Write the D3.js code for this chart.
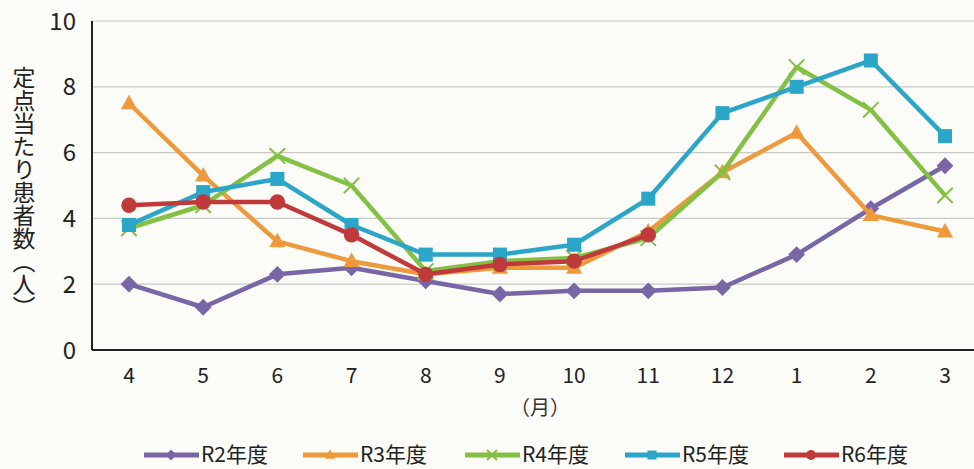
<!DOCTYPE html>
<html>
<head>
<meta charset="utf-8">
<script src="https://cdn.jsdelivr.net/npm/d3@7"></script>
<style>
  body { margin: 0; background: #fbfbf7; }
  svg { display: block; font-family: "Noto Sans CJK JP", "Noto Sans", sans-serif; }
</style>
</head>
<body>
<svg id="chart" width="974" height="469"></svg>
<script>
// months (April start fiscal year)
const months = ['4', '5', '6', '7', '8', '9', '10', '11', '12', '1', '2', '3'];
const yTicks = [0, 2, 4, 6, 8, 10];

const r2 = [2.0, 1.3, 2.3, 2.5, 2.1, 1.7, 1.8, 1.8, 1.9, 2.9, 4.3, 5.6];
const r3 = [7.5, 5.3, 3.3, 2.7, 2.3, 2.5, 2.5, 3.6, 5.4, 6.6, 4.1, 3.6];
const r4 = [3.7, 4.4, 5.9, 5.0, 2.4, 2.7, 2.8, 3.4, 5.4, 8.6, 7.3, 4.7];
const r5 = [3.8, 4.8, 5.2, 3.8, 2.9, 2.9, 3.2, 4.6, 7.2, 8.0, 8.8, 6.5];
const r6 = [4.4, 4.5, 4.5, 3.5, 2.3, 2.6, 2.7, 3.5];

const seriesNames = ['R2年度', 'R3年度', 'R4年度', 'R5年度', 'R6年度'];
const seriesValues = [r2, r3, r4, r5, r6];
const colors = ['#7866a6', '#ee9a3c', '#84c043', '#2ba5c8', '#c03a3c'];
const markers = ['diamond', 'triangle', 'cross', 'square', 'circle'];

const svg = d3.select('#chart');
const margin = {top: 21, right: 0, bottom: 119, left: 92};
const width = 974, height = 469;

const x = d3.scalePoint()
  .domain(months)
  .range([129, 945]);
const y = d3.scaleLinear()
  .domain([0, 10])
  .range([height - margin.bottom, margin.top]);

// gridlines
svg.append('g')
  .selectAll('line')
  .data(yTicks.filter(d => d > 0))
  .enter()
  .append('line')
  .attr('x1', margin.left)
  .attr('x2', width)
  .attr('y1', d => y(d))
  .attr('y2', d => y(d))
  .attr('stroke', '#c9c9c6')
  .attr('stroke-width', 1.2);

// axes lines
svg.append('line')
  .attr('x1', margin.left).attr('x2', margin.left)
  .attr('y1', y(10)).attr('y2', y(0))
  .attr('stroke', '#222').attr('stroke-width', 2);
svg.append('line')
  .attr('x1', margin.left).attr('x2', width)
  .attr('y1', y(0)).attr('y2', y(0))
  .attr('stroke', '#222').attr('stroke-width', 2);

// y tick labels
svg.append('g')
  .selectAll('text')
  .data(yTicks)
  .enter()
  .append('text')
  .attr('x', 76)
  .attr('y', d => y(d))
  .attr('dy', '0.36em')
  .attr('text-anchor', 'end')
  .attr('font-size', 24)
  .attr('fill', '#222')
  .text(d => d);

// x tick labels
svg.append('g')
  .selectAll('text')
  .data(months)
  .enter()
  .append('text')
  .attr('x', d => x(d))
  .attr('y', 375)
  .attr('dy', '0.36em')
  .attr('text-anchor', 'middle')
  .attr('font-size', 21)
  .attr('fill', '#222')
  .text(d => d);

svg.append('text')
  .attr('x', 540)
  .attr('y', 408)
  .attr('dy', '0.36em')
  .attr('text-anchor', 'middle')
  .attr('font-size', 20)
  .attr('fill', '#333')
  .text('（月）');

// y axis title (vertical), vertical-form parentheses
svg.append('text')
  .attr('x', 24)
  .attr('y', 66)
  .style('writing-mode', 'vertical-rl')
  .attr('font-size', 23)
  .attr('fill', '#222')
  .text('定点当たり患者数︵人︶');

function drawMarker(g, type, color, size) {
  const s = size;
  if (type === 'circle') {
    g.append('circle').attr('r', s * 0.55).attr('fill', color);
  } else if (type === 'square') {
    g.append('rect').attr('x', -s / 2).attr('y', -s / 2)
      .attr('width', s).attr('height', s).attr('fill', color);
  } else if (type === 'diamond') {
    g.append('path').attr('d', `M0,${-s * 0.6}L${s * 0.6},0L0,${s * 0.6}L${-s * 0.6},0Z`).attr('fill', color);
  } else if (type === 'triangle') {
    g.append('path').attr('d', `M0,${-s * 0.62}L${s * 0.58},${s * 0.42}L${-s * 0.58},${s * 0.42}Z`).attr('fill', color);
  } else if (type === 'cross') {
    const a = s * 0.55;
    g.append('path').attr('d', `M${-a},${-a}L${a},${a}M${a},${-a}L${-a},${a}`)
      .attr('stroke', color).attr('stroke-width', 2).attr('fill', 'none');
  }
}

const line = d3.line()
  .x((d, i) => x(months[i]))
  .y(d => y(d));

seriesValues.forEach((vals, si) => {
  const g = svg.append('g');
  g.append('path')
    .datum(vals)
    .attr('fill', 'none')
    .attr('stroke', colors[si])
    .attr('stroke-width', 4.5)
    .attr('stroke-linejoin', 'round')
    .attr('d', line);
  g.selectAll('.pt')
    .data(vals)
    .enter()
    .append('g')
    .attr('class', 'pt')
    .attr('transform', (d, i) => `translate(${x(months[i])},${y(d)})`)
    .each(function() { drawMarker(d3.select(this), markers[si], colors[si], 14); });
});

// legend
const legendX = [144, 303, 465, 625, 784];
const legend = svg.append('g');
seriesNames.forEach((name, i) => {
  const lg = legend.append('g').attr('transform', `translate(${legendX[i]},455)`);
  lg.append('line')
    .attr('x1', 0).attr('x2', 55)
    .attr('stroke', colors[i]).attr('stroke-width', 5);
  const m = lg.append('g').attr('transform', 'translate(27,0)');
  drawMarker(m, markers[i], colors[i], 9);
  lg.append('text')
    .attr('x', 57)
    .attr('y', 7)
    .attr('font-size', 21)
    .attr('fill', '#222')
    .text(name);
});
</script>
</body>
</html>
